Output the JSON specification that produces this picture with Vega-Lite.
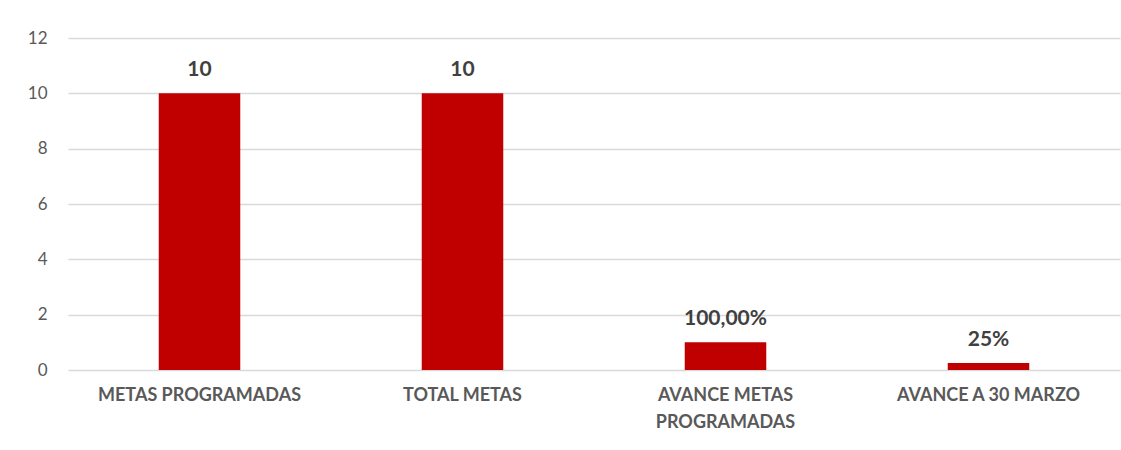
{
  "$schema": "https://vega.github.io/schema/vega-lite/v6.json",
  "autosize": "none",
  "width": 1052,
  "height": 332,
  "padding": {"left": 68, "top": 38, "right": 1, "bottom": 80},
  "background": "white",
  "config": {"view": {"stroke": null}},
  "data": {
    "values": [
      {"category": "METAS PROGRAMADAS", "value": 10, "label": "10"},
      {"category": "TOTAL METAS", "value": 10, "label": "10"},
      {"category": "AVANCE METAS PROGRAMADAS", "value": 1, "label": "100,00%"},
      {"category": "AVANCE A 30 MARZO", "value": 0.25, "label": "25%"}
    ]
  },
  "encoding": {
    "x": {
      "field": "category",
      "type": "nominal",
      "sort": null,
      "scale": {"paddingInner": 0.69, "paddingOuter": 0.345},
      "axis": {
        "title": null,
        "labelAngle": 0,
        "domain": false,
        "ticks": false,
        "labelFont": "Lato",
        "labelFontWeight": "bold",
        "labelFontSize": 18,
        "labelColor": "#595959",
        "labelPadding": 16,
        "labelLineHeight": 27,
        "labelLimit": 300,
        "labelExpr": "datum.label == 'AVANCE METAS PROGRAMADAS' ? ['AVANCE METAS', 'PROGRAMADAS'] : datum.label"
      }
    },
    "y": {
      "field": "value",
      "type": "quantitative",
      "scale": {"domain": [0, 12], "nice": false},
      "axis": {
        "title": null,
        "values": [0, 2, 4, 6, 8, 10, 12],
        "domain": false,
        "ticks": false,
        "grid": true,
        "gridColor": "#d9d9d9",
        "gridWidth": 1.3,
        "labelFont": "Lato",
        "labelFontSize": 17,
        "labelColor": "#595959",
        "labelPadding": 21
      }
    }
  },
  "layer": [
    {"mark": {"type": "bar", "color": "#c00000"}},
    {
      "mark": {
        "type": "text",
        "font": "Lato",
        "fontWeight": "bold",
        "fontSize": 21,
        "color": "#404040",
        "baseline": "alphabetic",
        "dy": -17
      },
      "encoding": {"text": {"field": "label"}}
    }
  ]
}
